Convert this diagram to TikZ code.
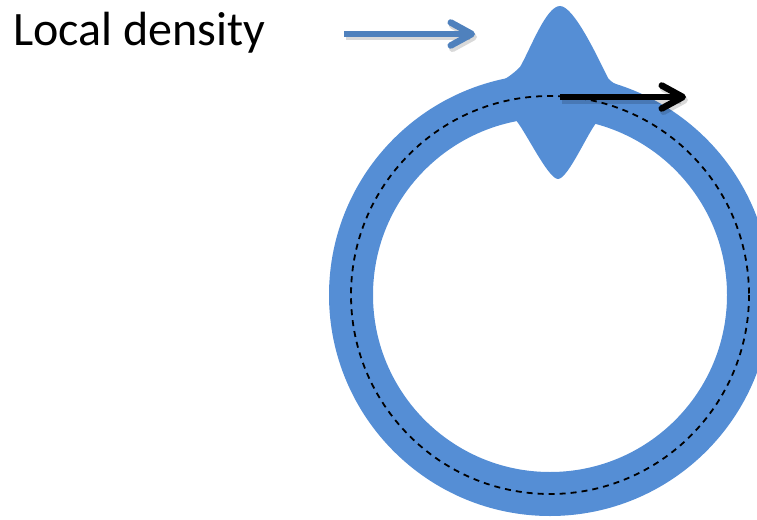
\documentclass[tikz,border=0pt]{standalone}
\usepackage{fontspec}
\setmainfont{Carlito}
\usetikzlibrary{arrows.meta,calc}
\definecolor{ringblue}{RGB}{85,142,213}
\definecolor{arrowblue}{RGB}{79,129,189}
\tikzset{
  ringstyle/.style={draw=ringblue, line width=44pt},
  orbit/.style={draw=black, line width=1.8pt, dash pattern=on 6pt off 5pt},
  chevron/.style={-{Straight Barb[length=21pt,width=23pt,round]}, line width=6.5pt},
  shade/.style={draw=black, opacity=0.15, line width=7pt, -{Straight Barb[length=21pt,width=23pt,round]}},
  label/.style={font=\fontsize{48}{56}\selectfont, anchor=base west, inner sep=0pt}
}
\begin{document}
\begin{tikzpicture}[x=1pt,y=-1pt]
\useasboundingbox (0,0) rectangle (757,519);
\clip (0,0) rectangle (757,519);
% ring
\draw[ringstyle] (550,295) circle[radius=199];
% density bump (outer)
\fill[ringblue] (497,100) -- (497,83) .. controls (506,79) and (513,74) .. (520,67)
  .. controls (530,50) and (546,6) .. (560,6)
  .. controls (574,6) and (598,58) .. (608,78)
  .. controls (611,82) and (615,84) .. (620,86) -- (620,100) -- cycle;
% density bump (inner)
\fill[ringblue] (510,105) -- (512,120) -- (515,119)
  .. controls (525,130) and (548,179) .. (558,179)
  .. controls (568,179) and (588,132) .. (597,122) -- (600,123) -- (600,105) -- cycle;
% dashed orbit
\draw[orbit] (550,295) circle[radius=199];
% coordinates
\coordinate (ba) at (344,34);
\coordinate (bb) at (475,34);
\coordinate (ka) at (560,97);
\coordinate (kb) at (686,97);
% shadows
\draw[shade] ($(ba)+(2,3)$) -- ($(bb)+(2,3)$);
\draw[shade] ($(ka)+(2,3)$) -- ($(kb)+(2,3)$);
% arrows
\draw[chevron, arrowblue] (ba) -- (bb);
\draw[chevron, black] (ka) -- (kb);
% label
\node[label] (txt) at (13,46) {Local density};
\end{tikzpicture}
\end{document}
